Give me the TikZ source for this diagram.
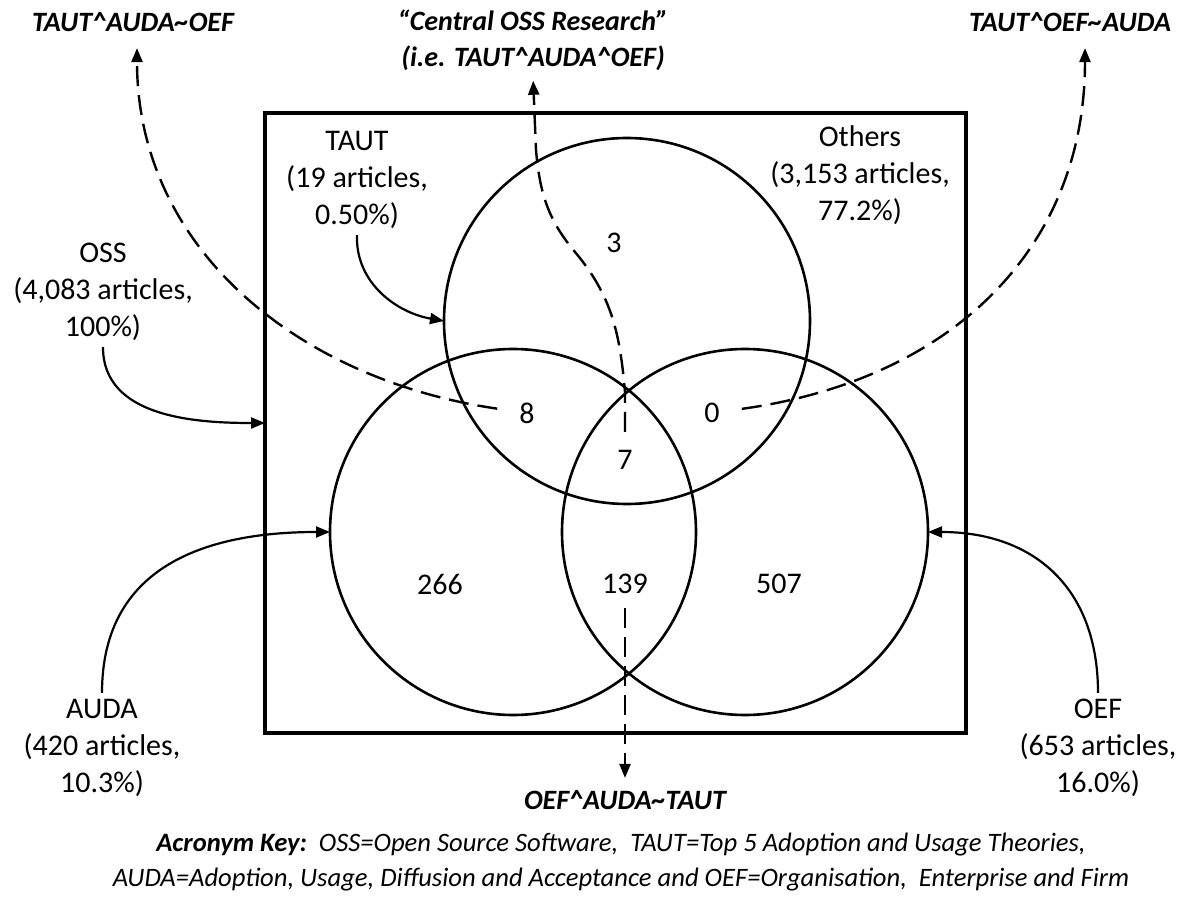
\documentclass[tikz,border=0pt]{standalone}
\usepackage{fontspec}
\setmainfont{Carlito}
\usetikzlibrary{arrows.meta,positioning}

\begin{document}
\begin{tikzpicture}[
    x=0.5pt, y=-0.5pt,
    set/.style={draw, circle, line width=1.3pt, minimum size=183pt, inner sep=0pt, outer sep=0pt},
    frame/.style={draw, line width=1.6pt, minimum width=350.5pt, minimum height=310pt, inner sep=0pt, outer sep=0pt},
    lbl/.style={align=center, font=\fontsize{15}{18.5}\selectfont, inner sep=3pt},
    num/.style={font=\fontsize{15}{17}\selectfont, inner sep=3pt},
    tag/.style={align=center, font=\fontsize{14}{18}\selectfont\bfseries\itshape, inner sep=3pt},
    key/.style={align=center, font=\fontsize{13.3}{17.5}\selectfont\itshape},
    arrow/.style={-{Triangle[length=7pt,width=5.5pt]}, line width=1.1pt},
    dasharrow/.style={arrow, line width=1.2pt, dash pattern=on 10pt off 4.5pt}
  ]
  \useasboundingbox (0,0) rectangle (1191,904);

  % universe and the three sets
  \node[frame] (oss) at (615.5,423) {};
  \node[set] (taut) at (627,321) {};
  \node[set] (auda) at (513,532) {};
  \node[set] (oef) at (745,532) {};

  % region counts
  \node[num] (n3) at (614,243) {3};
  \node[num] (n8) at (527,413) {8};
  \node[num] (n0) at (712,413) {0};
  \node[num] (n7) at (625,460) {7};
  \node[num] (n266) at (440,584) {266};
  \node[num] (n139) at (625,584) {139};
  \node[num] (n507) at (779,584) {507};

  % set labels
  \node[lbl] (tautlbl) at (357,180) {TAUT\\(19 articles,\\0.50\%)};
  \node[lbl] (otherslbl) at (860,175) {Others\\(3,153 articles,\\77.2\%)};
  \node[lbl] (osslbl) at (103,292) {OSS\\(4,083 articles,\\100\%)};
  \node[lbl] (audalbl) at (102,748) {AUDA\\(420 articles,\\10.3\%)};
  \node[lbl] (oeflbl) at (1098,748) {OEF\\(653 articles,\\16.0\%)};

  % intersection tags
  \node[tag] (tagL) at (133,22) {TAUT\textasciicircum AUDA\textasciitilde OEF};
  \node[tag] (tagC) at (533,40) {“Central OSS Research”\\(i.e. TAUT\textasciicircum AUDA\textasciicircum OEF)};
  \node[tag] (tagR) at (1070,22) {TAUT\textasciicircum OEF\textasciitilde AUDA};
  \node[tag] (tagB) at (625,800) {OEF\textasciicircum AUDA\textasciitilde TAUT};

  \node[key] (acro) at (621,862) {\textbf{Acronym Key:}\ \ OSS=Open Source Software,\ \ TAUT=Top 5 Adoption and Usage Theories,\\AUDA=Adoption, Usage, Diffusion and Acceptance and OEF=Organisation,\ \ Enterprise and Firm};

  % labels to sets
  \draw[arrow] (tautlbl.south) to[out=-92,in=170] (taut.west);
  \draw[arrow] (osslbl.south) to[out=-90,in=180] (oss.west);
  \draw[arrow] (audalbl.north) to[out=90,in=180,looseness=1.15] (auda.west);
  \draw[arrow] (oeflbl.north) to[out=90,in=0,looseness=1.15] (oef.east);

  % regions to tags
  \draw[dasharrow, shorten <=8pt, shorten >=5pt] (n8) .. controls (300,380) and (137,250) .. ([xshift=2pt]tagL.south);
  \draw[dasharrow, shorten <=8pt, shorten >=5pt] (n0) .. controls (950,380) and (1085,250) .. ([xshift=7.5pt]tagR.south);
  \draw[dasharrow, shorten <=6pt, shorten >=2pt] (n7.north) -- (625,392) to[out=95,in=-50] (575,252)
    to[out=130,in=-85] (536,150) -- (tagC.south);
  \draw[dasharrow, shorten <=4pt, shorten >=3pt] (n139.south) -- (tagB.north);
\end{tikzpicture}
\end{document}
